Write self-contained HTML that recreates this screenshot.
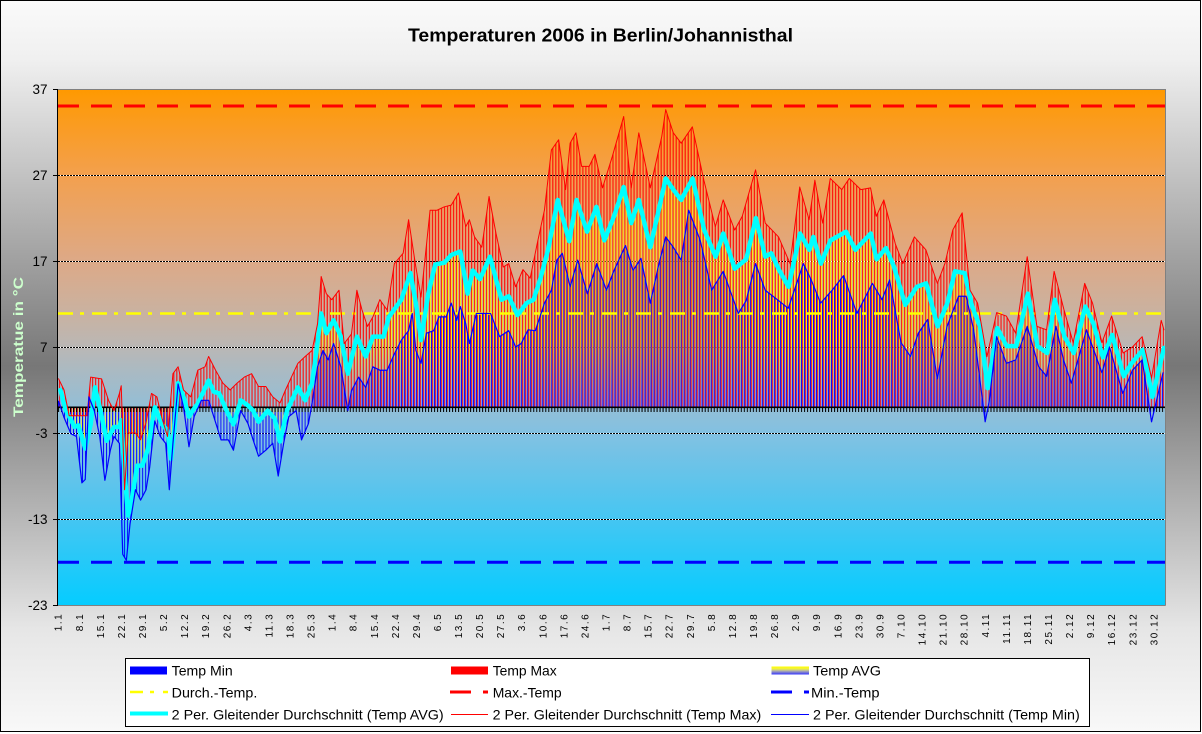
<!DOCTYPE html>
<html><head><meta charset="utf-8"><title>Temperaturen 2006 in Berlin/Johannisthal</title>
<style>html,body{margin:0;padding:0;background:#fff}svg{display:block}</style></head>
<body>
<svg width="1202" height="734" viewBox="0 0 1202 734" xmlns="http://www.w3.org/2000/svg" font-family="'Liberation Sans', Arial, sans-serif">
<defs>
<linearGradient id="bg" x1="0" y1="0" x2="0" y2="1">
<stop offset="0" stop-color="#fafafa"/><stop offset="0.08" stop-color="#f0f0f0"/><stop offset="0.5" stop-color="#777777"/><stop offset="0.86" stop-color="#e6e6e6"/><stop offset="1" stop-color="#f8f8f8"/>
</linearGradient>
<linearGradient id="plot" x1="0" y1="0" x2="0" y2="1">
<stop offset="0" stop-color="#ff9900"/><stop offset="0.167" stop-color="#f3a04e"/><stop offset="0.333" stop-color="#dda987"/><stop offset="0.436" stop-color="#c9b2a1"/><stop offset="0.5" stop-color="#bab7b5"/><stop offset="0.616" stop-color="#93bed6"/><stop offset="0.667" stop-color="#82c1e2"/><stop offset="0.833" stop-color="#45c6f2"/><stop offset="1" stop-color="#05ccff"/>
</linearGradient>
<linearGradient id="avgGrad" x1="0" y1="0" x2="0" y2="1">
<stop offset="0" stop-color="#8888ff"/><stop offset="0.1" stop-color="#ffff00"/><stop offset="0.46" stop-color="#ffff00"/><stop offset="0.5" stop-color="#6666ff"/><stop offset="0.85" stop-color="#6666ff"/><stop offset="0.9625" stop-color="#ffff00"/><stop offset="1" stop-color="#dddd88"/>
</linearGradient>
<linearGradient id="legAvg" x1="0" y1="0" x2="0" y2="1">
<stop offset="0" stop-color="#ffff00"/><stop offset="0.3" stop-color="#f0f040"/><stop offset="0.55" stop-color="#b0b0b0"/><stop offset="1" stop-color="#3333ff"/>
</linearGradient>
<pattern id="pBlue" patternUnits="userSpaceOnUse" x="0" y="0" width="0.9944" height="80"><rect x="0" y="0" width="0.3" height="80" fill="#0000ff"/></pattern>
<pattern id="pRed" patternUnits="userSpaceOnUse" x="0" y="0" width="0.9944" height="80"><rect x="0.33" y="0" width="0.34" height="80" fill="#ff0000"/></pattern>
<pattern id="pAvg" patternUnits="userSpaceOnUse" x="0" y="0" width="0.9944" height="80"><rect x="0.67" y="0" width="0.29" height="80" fill="url(#avgGrad)"/></pattern>
<pattern id="comb" patternUnits="userSpaceOnUse" x="58" y="0" width="3.008" height="20"><rect x="0" y="0" width="1" height="20" fill="#000"/></pattern>
</defs>

<rect x="0.5" y="0.5" width="1200" height="731" fill="url(#bg)" stroke="#000" stroke-width="1"/>

<text x="408" y="41.7" font-size="18.5" font-weight="bold" fill="#000" textLength="385" lengthAdjust="spacingAndGlyphs">Temperaturen 2006 in Berlin/Johannisthal</text>

<rect x="58" y="89" width="1107" height="516" fill="url(#plot)"/>

<g stroke-width="1">
<g stroke="#ffffff"><line x1="58" y1="175.5" x2="1165" y2="175.5"/><line x1="58" y1="261.5" x2="1165" y2="261.5"/><line x1="58" y1="347.5" x2="1165" y2="347.5"/><line x1="58" y1="433.5" x2="1165" y2="433.5"/><line x1="58" y1="519.5" x2="1165" y2="519.5"/></g>
<g stroke="#000000" stroke-dasharray="2 1"><line x1="58" y1="175.5" x2="1165" y2="175.5"/><line x1="58" y1="261.5" x2="1165" y2="261.5"/><line x1="58" y1="347.5" x2="1165" y2="347.5"/><line x1="58" y1="433.5" x2="1165" y2="433.5"/><line x1="58" y1="519.5" x2="1165" y2="519.5"/></g>
</g>

<g transform="translate(58,407.2) scale(3.025,-8.6)">
<polygon fill="url(#pRed)" points="0,0 0,3.3 0.2,3.3 2,2 3.7,-1 9.6,-1 10.8,3.5 14.4,3.3 16.7,0.8 18.5,-0.4 20.3,1.6 20.9,2.5 22,-9.6 23.2,-3 25.6,-3 27.3,-3.8 29.1,-1.8 30.9,1.6 32.7,1.2 34.4,-1.3 36.2,-3.4 38,3.9 39.7,4.7 41.5,2 43.9,1.2 46.2,4.3 48.6,4.7 49.8,5.9 52.1,4.3 54.5,2.8 56.9,2 59.2,2.8 61.6,3.5 64,3.9 66.3,2.4 68.7,2.4 71,1.2 73.4,0.5 75.2,2 76.9,3.3 79.3,5.1 81.7,5.9 84,6.6 85.8,9.7 87,15.2 88.7,13.2 90.5,12.5 92.9,13.6 94.6,7.4 97,8.5 98.8,13.6 100.5,11.3 102.3,9.4 104.1,10.5 106.4,12.5 108.8,11.3 111.2,16.7 114.1,17.9 115.9,21.8 118.3,16.3 120,12.8 123,22.9 125.3,22.9 127.7,23.3 130,23.5 132.4,24.9 134.8,21 136,21.8 137.7,19.8 140.1,18.6 142.5,24.5 144.8,20.2 147.2,16.3 149,16.7 151.3,14 153.7,16 156.1,15 158.4,19 160.8,22.9 163.1,29.9 165.5,31.1 167.8,25.3 169.3,30.7 171.2,31.9 173.1,28 175.6,28 177.5,29.4 180,25.5 183.2,29.1 187,33.8 189.5,25.5 192,31.9 195.8,25.5 199.6,31.5 200.9,34.6 203.4,31.9 206,30.7 209.7,32.6 213.5,26.4 217.3,21 219.9,24.1 223.7,20.6 226.2,22.2 230.6,27.6 233.8,21.4 238.2,19.8 242,16.7 245.2,25.6 248.3,21.8 250.2,26.4 252.8,21.4 255.3,26.6 259.1,25.3 261.6,26.6 265.4,25.3 268.6,25.5 270.5,22.2 273,24.1 276.8,19 279.3,16.7 283.1,19.8 286.9,18.3 290.7,14.4 293.2,16.7 295.8,20.6 298.9,22.6 301.5,13.6 304,12.1 307.1,5.9 310.3,11 313.5,10.6 316.6,8.6 320.4,17.5 323.6,9.4 326.8,9 329.3,15.8 332.5,11.4 335.6,7.5 339.4,14.4 342,12.1 345.1,7.5 348.3,10.6 352.1,6.3 355.2,7 358.4,8.2 361.5,3.4 364.7,10.1 365.6,9 365.6,0"/>
<polygon fill="url(#pAvg)" points="0,0 0,2.5 0.8,2 2.5,-0.3 5.5,-2.3 6.7,-2.1 9,-4.8 10.8,-2 12.2,2.3 13.8,0 16.1,-3.9 18.5,-2.3 20.3,-2.3 20.9,-1.5 22,-7.6 23.2,-12.6 24.4,-10.7 26.2,-6.8 27.9,-6.8 29.7,-4.9 32,0 34.4,-2 36.2,-2.7 37.4,-6 38.6,-2 39.7,2.8 41.5,1.2 43.3,-1.1 44.5,-0.4 46.2,0.4 49.8,3.1 51.5,1.8 53.3,1.6 55.7,-0.4 58,-2 60.4,0.8 62.8,0.2 64.5,-0.4 66.3,-1.7 69.3,-0.4 71.6,-1.3 73.4,-4 75.7,-0.4 79.3,2.3 81.7,0.8 84,2.8 85.2,5.9 87,10.9 88.7,8.6 91.1,10.1 93.5,8.2 95.8,3.9 98.8,8.2 101.7,5.9 104.1,8.2 107.6,8.2 109.4,10.5 113.5,12.5 116.5,15.6 118.3,12.1 120,7.8 122.4,13.2 124.7,16.6 127.7,16.8 130,17.7 133,18.1 135.4,13.2 137.1,15.9 139.5,14.9 142.8,17.5 146.6,12.5 149,12.9 151.9,10.7 154.9,12.1 157.2,12.5 159.6,15.1 162,18.3 165.2,24.1 169,19.3 171.4,24.1 174.9,20.4 178,23.3 180.6,19.4 183.8,22.2 187,25.6 189.5,21.4 192,24.1 195.8,18.6 198.3,22.5 200.9,26.6 203.4,25.3 206,24.1 209.8,26.6 213.6,20.6 217.4,17.5 219.9,20.2 223.7,16.1 227.5,17.2 230.7,22 233.8,17.5 235.8,17.9 238.3,16 241.5,14 245.3,20.2 248.4,18.3 249.7,19.8 252.2,16.7 255.4,19.4 260.5,20.4 263.6,18.3 268.7,20.2 270.6,17.2 273.7,18.5 276.3,16.4 280.1,11.9 283.9,14 287,14.4 290.8,9.4 294,12.1 296.5,15.8 299.7,15.6 302.2,11.7 304.8,9.4 307.3,2.2 310.5,9.2 313.6,7.1 316.8,7.1 320.6,13.2 323.8,7.1 327,6.3 329.5,12.5 332.7,8.2 335.8,6.3 339.6,11.7 342.2,9.8 345.4,5.8 348.5,8.4 352.3,3.6 354.9,5.1 358.7,6.7 361.8,1.2 365.6,6.9 365.6,0"/>
<polygon fill="url(#pBlue)" points="0,0 0,0.7 0.2,0.7 2,-1.2 4.3,-3.1 6.1,-3.4 7.9,-8.8 9,-8.4 10.2,1.2 12,-0.4 13.8,-3.4 15.5,-8.5 17.3,-5 18.5,-3.4 20.3,-4.2 21.4,-17.1 22.6,-17.8 23.8,-13.6 25.6,-9.6 27.3,-10.8 29.1,-9.6 30.3,-7 32,-1.6 33.8,-3.4 35.6,-4.2 36.8,-9.6 38,-4.2 39.7,2.7 41.5,0 43.3,-4.6 45,-1.1 47.4,0.8 49.8,0.8 51.5,-1.1 53.9,-3.8 56.3,-3.8 58,-5 60.4,-0.4 62.8,-1.9 64.5,-3.8 66.3,-5.7 68.7,-5 71,-4.2 72.8,-8 74.6,-4.2 76.3,-1.1 78.7,-0.4 80.5,-3.8 82.8,-1.9 84,0.5 85.8,4.7 87.6,6.6 89.3,5.5 91.1,7.4 93.5,4.7 95.8,-0.4 97,1.9 99.4,3.5 101.7,2.3 104.1,4.7 106.4,4.3 108.8,4.3 111.2,6.2 113.5,7.8 115.9,8.9 117.1,10.9 118.3,6.6 120,5.1 121.8,8.6 124.2,8.9 125.9,10.5 128.3,10.5 130,12.1 131.8,10.1 133,11.7 134.8,9.7 136,7.4 138.3,10.9 143,10.9 146,8.2 149,8.9 151.3,7 153.1,7.4 155.4,9 157.8,8.9 160.8,12.1 163.1,13.6 164.9,17.1 166.7,17.9 169.3,14 171.8,17.1 175,13.2 178.1,16.7 181.3,13.6 183.8,15.9 187.6,18.8 190.1,15.9 192.7,17.3 195.8,12.1 198.4,16.3 200.9,19.8 203.4,18.6 206,17.1 208.5,22.9 212.3,19.4 216.1,13.6 219.9,15.8 224.9,10.9 227.5,12.4 230.6,16.7 233.8,13.6 238.2,12.4 241.4,11.5 246.4,16.7 249,14.8 252.1,12.1 255.9,13.6 259.7,15.3 264.1,10.9 269.2,14.4 272.4,12.5 274.9,14.8 278.7,7.5 281.8,5.9 284.4,8.6 287.5,10.2 290.7,3.3 293.9,9.4 297.7,12.9 300.2,12.9 302.7,9 306.5,-1.7 307.8,0.6 310.3,8.2 313.5,5.1 316.6,5.5 320.4,9.4 324.2,4.7 326.8,3.6 329.9,9.4 332.4,5.5 335,2.8 340,9 345.1,4 347.6,7 352,1.6 355.2,4.3 358.4,5.5 361.5,-1.7 365.3,4 365.6,4 365.6,0"/>
</g>

<rect x="58" y="406.5" width="1107" height="1.6" fill="#000"/>
<rect x="58" y="407" width="1107" height="5" fill="url(#comb)"/>

<line x1="58" y1="313.5" x2="1165" y2="313.5" stroke="#ffff00" stroke-width="2.6" stroke-dasharray="15 7 4 8"/>
<line x1="58" y1="106" x2="1165" y2="106" stroke="#ff0000" stroke-width="3" stroke-dasharray="21 12"/>
<line x1="58" y1="562.3" x2="1165" y2="562.3" stroke="#0000ff" stroke-width="3" stroke-dasharray="21 12"/>

<g transform="translate(58,407.2) scale(3.025,-8.6)" fill="none" stroke-linejoin="round" stroke-linecap="round">
<polyline vector-effect="non-scaling-stroke" stroke="#00ffff" stroke-width="4.5" points="0.8,2 2.5,-0.3 5.5,-2.3 6.7,-2.1 9,-4.8 10.8,-2 12.2,2.3 13.8,0 16.1,-3.9 18.5,-2.3 20.3,-2.3 20.9,-1.5 22,-7.6 23.2,-12.6 24.4,-10.7 26.2,-6.8 27.9,-6.8 29.7,-4.9 32,0 34.4,-2 36.2,-2.7 37.4,-6 38.6,-2 39.7,2.8 41.5,1.2 43.3,-1.1 44.5,-0.4 46.2,0.4 49.8,3.1 51.5,1.8 53.3,1.6 55.7,-0.4 58,-2 60.4,0.8 62.8,0.2 64.5,-0.4 66.3,-1.7 69.3,-0.4 71.6,-1.3 73.4,-4 75.7,-0.4 79.3,2.3 81.7,0.8 84,2.8 85.2,5.9 87,10.9 88.7,8.6 91.1,10.1 93.5,8.2 95.8,3.9 98.8,8.2 101.7,5.9 104.1,8.2 107.6,8.2 109.4,10.5 113.5,12.5 116.5,15.6 118.3,12.1 120,7.8 122.4,13.2 124.7,16.6 127.7,16.8 130,17.7 133,18.1 135.4,13.2 137.1,15.9 139.5,14.9 142.8,17.5 146.6,12.5 149,12.9 151.9,10.7 154.9,12.1 157.2,12.5 159.6,15.1 162,18.3 165.2,24.1 169,19.3 171.4,24.1 174.9,20.4 178,23.3 180.6,19.4 183.8,22.2 187,25.6 189.5,21.4 192,24.1 195.8,18.6 198.3,22.5 200.9,26.6 203.4,25.3 206,24.1 209.8,26.6 213.6,20.6 217.4,17.5 219.9,20.2 223.7,16.1 227.5,17.2 230.7,22 233.8,17.5 235.8,17.9 238.3,16 241.5,14 245.3,20.2 248.4,18.3 249.7,19.8 252.2,16.7 255.4,19.4 260.5,20.4 263.6,18.3 268.7,20.2 270.6,17.2 273.7,18.5 276.3,16.4 280.1,11.9 283.9,14 287,14.4 290.8,9.4 294,12.1 296.5,15.8 299.7,15.6 302.2,11.7 304.8,9.4 307.3,2.2 310.5,9.2 313.6,7.1 316.8,7.1 320.6,13.2 323.8,7.1 327,6.3 329.5,12.5 332.7,8.2 335.8,6.3 339.6,11.7 342.2,9.8 345.4,5.8 348.5,8.4 352.3,3.6 354.9,5.1 358.7,6.7 361.8,1.2 365.6,6.9"/>
<polyline vector-effect="non-scaling-stroke" stroke="#ff0000" stroke-width="1" points="0.2,3.3 2,2 3.7,-1 9.6,-1 10.8,3.5 14.4,3.3 16.7,0.8 18.5,-0.4 20.3,1.6 20.9,2.5 22,-9.6 23.2,-3 25.6,-3 27.3,-3.8 29.1,-1.8 30.9,1.6 32.7,1.2 34.4,-1.3 36.2,-3.4 38,3.9 39.7,4.7 41.5,2 43.9,1.2 46.2,4.3 48.6,4.7 49.8,5.9 52.1,4.3 54.5,2.8 56.9,2 59.2,2.8 61.6,3.5 64,3.9 66.3,2.4 68.7,2.4 71,1.2 73.4,0.5 75.2,2 76.9,3.3 79.3,5.1 81.7,5.9 84,6.6 85.8,9.7 87,15.2 88.7,13.2 90.5,12.5 92.9,13.6 94.6,7.4 97,8.5 98.8,13.6 100.5,11.3 102.3,9.4 104.1,10.5 106.4,12.5 108.8,11.3 111.2,16.7 114.1,17.9 115.9,21.8 118.3,16.3 120,12.8 123,22.9 125.3,22.9 127.7,23.3 130,23.5 132.4,24.9 134.8,21 136,21.8 137.7,19.8 140.1,18.6 142.5,24.5 144.8,20.2 147.2,16.3 149,16.7 151.3,14 153.7,16 156.1,15 158.4,19 160.8,22.9 163.1,29.9 165.5,31.1 167.8,25.3 169.3,30.7 171.2,31.9 173.1,28 175.6,28 177.5,29.4 180,25.5 183.2,29.1 187,33.8 189.5,25.5 192,31.9 195.8,25.5 199.6,31.5 200.9,34.6 203.4,31.9 206,30.7 209.7,32.6 213.5,26.4 217.3,21 219.9,24.1 223.7,20.6 226.2,22.2 230.6,27.6 233.8,21.4 238.2,19.8 242,16.7 245.2,25.6 248.3,21.8 250.2,26.4 252.8,21.4 255.3,26.6 259.1,25.3 261.6,26.6 265.4,25.3 268.6,25.5 270.5,22.2 273,24.1 276.8,19 279.3,16.7 283.1,19.8 286.9,18.3 290.7,14.4 293.2,16.7 295.8,20.6 298.9,22.6 301.5,13.6 304,12.1 307.1,5.9 310.3,11 313.5,10.6 316.6,8.6 320.4,17.5 323.6,9.4 326.8,9 329.3,15.8 332.5,11.4 335.6,7.5 339.4,14.4 342,12.1 345.1,7.5 348.3,10.6 352.1,6.3 355.2,7 358.4,8.2 361.5,3.4 364.7,10.1 365.6,9"/>
<polyline vector-effect="non-scaling-stroke" stroke="#0000ff" stroke-width="1.2" points="0.2,0.7 2,-1.2 4.3,-3.1 6.1,-3.4 7.9,-8.8 9,-8.4 10.2,1.2 12,-0.4 13.8,-3.4 15.5,-8.5 17.3,-5 18.5,-3.4 20.3,-4.2 21.4,-17.1 22.6,-17.8 23.8,-13.6 25.6,-9.6 27.3,-10.8 29.1,-9.6 30.3,-7 32,-1.6 33.8,-3.4 35.6,-4.2 36.8,-9.6 38,-4.2 39.7,2.7 41.5,0 43.3,-4.6 45,-1.1 47.4,0.8 49.8,0.8 51.5,-1.1 53.9,-3.8 56.3,-3.8 58,-5 60.4,-0.4 62.8,-1.9 64.5,-3.8 66.3,-5.7 68.7,-5 71,-4.2 72.8,-8 74.6,-4.2 76.3,-1.1 78.7,-0.4 80.5,-3.8 82.8,-1.9 84,0.5 85.8,4.7 87.6,6.6 89.3,5.5 91.1,7.4 93.5,4.7 95.8,-0.4 97,1.9 99.4,3.5 101.7,2.3 104.1,4.7 106.4,4.3 108.8,4.3 111.2,6.2 113.5,7.8 115.9,8.9 117.1,10.9 118.3,6.6 120,5.1 121.8,8.6 124.2,8.9 125.9,10.5 128.3,10.5 130,12.1 131.8,10.1 133,11.7 134.8,9.7 136,7.4 138.3,10.9 143,10.9 146,8.2 149,8.9 151.3,7 153.1,7.4 155.4,9 157.8,8.9 160.8,12.1 163.1,13.6 164.9,17.1 166.7,17.9 169.3,14 171.8,17.1 175,13.2 178.1,16.7 181.3,13.6 183.8,15.9 187.6,18.8 190.1,15.9 192.7,17.3 195.8,12.1 198.4,16.3 200.9,19.8 203.4,18.6 206,17.1 208.5,22.9 212.3,19.4 216.1,13.6 219.9,15.8 224.9,10.9 227.5,12.4 230.6,16.7 233.8,13.6 238.2,12.4 241.4,11.5 246.4,16.7 249,14.8 252.1,12.1 255.9,13.6 259.7,15.3 264.1,10.9 269.2,14.4 272.4,12.5 274.9,14.8 278.7,7.5 281.8,5.9 284.4,8.6 287.5,10.2 290.7,3.3 293.9,9.4 297.7,12.9 300.2,12.9 302.7,9 306.5,-1.7 307.8,0.6 310.3,8.2 313.5,5.1 316.6,5.5 320.4,9.4 324.2,4.7 326.8,3.6 329.9,9.4 332.4,5.5 335,2.8 340,9 345.1,4 347.6,7 352,1.6 355.2,4.3 358.4,5.5 361.5,-1.7 365.3,4"/>
</g>

<line x1="58" y1="89.5" x2="1165.5" y2="89.5" stroke="#808080" stroke-width="1"/>
<line x1="1165.5" y1="89" x2="1165.5" y2="605.5" stroke="#808080" stroke-width="1"/>
<line x1="58" y1="605.5" x2="1165.5" y2="605.5" stroke="#808080" stroke-width="1"/>
<line x1="57.5" y1="89" x2="57.5" y2="606" stroke="#000" stroke-width="1"/>
<g stroke="#000" stroke-width="1">
<line x1="53" y1="89.5" x2="58" y2="89.5"/><line x1="53" y1="175.5" x2="58" y2="175.5"/><line x1="53" y1="261.5" x2="58" y2="261.5"/><line x1="53" y1="347.5" x2="58" y2="347.5"/><line x1="53" y1="433.5" x2="58" y2="433.5"/><line x1="53" y1="519.5" x2="58" y2="519.5"/><line x1="53" y1="605.5" x2="58" y2="605.5"/>
</g>

<g font-size="13.5" fill="#000" text-anchor="end">
<text x="47.5" y="94">37</text><text x="47.5" y="180">27</text><text x="47.5" y="266">17</text><text x="47.5" y="352">7</text><text x="47.5" y="438">-3</text><text x="47.5" y="524">-13</text><text x="47.5" y="610">-23</text>
</g>

<text transform="translate(23,417) rotate(-90)" font-size="14" font-weight="bold" fill="#ccffcc" textLength="140" lengthAdjust="spacingAndGlyphs">Temperatue in °C</text>

<g transform="rotate(-90)" font-size="10" fill="#000" text-anchor="end" letter-spacing="1.5">
<text x="-612.8" y="61.7">1.1</text><text x="-612.8" y="82.8">8.1</text><text x="-612.8" y="103.8">15.1</text><text x="-612.8" y="124.9">22.1</text><text x="-612.8" y="146">29.1</text><text x="-612.8" y="167.1">5.2</text><text x="-612.8" y="188.1">12.2</text><text x="-612.8" y="209.2">19.2</text><text x="-612.8" y="230.3">26.2</text><text x="-612.8" y="251.3">4.3</text><text x="-612.8" y="272.4">11.3</text><text x="-612.8" y="293.5">18.3</text><text x="-612.8" y="314.5">25.3</text><text x="-612.8" y="335.6">1.4</text><text x="-612.8" y="356.7">8.4</text><text x="-612.8" y="377.8">15.4</text><text x="-612.8" y="398.8">22.4</text><text x="-612.8" y="419.9">29.4</text><text x="-612.8" y="441">6.5</text><text x="-612.8" y="462">13.5</text><text x="-612.8" y="483.1">20.5</text><text x="-612.8" y="504.2">27.5</text><text x="-612.8" y="525.2">3.6</text><text x="-612.8" y="546.3">10.6</text><text x="-612.8" y="567.4">17.6</text><text x="-612.8" y="588.5">24.6</text><text x="-612.8" y="609.5">1.7</text><text x="-612.8" y="630.6">8.7</text><text x="-612.8" y="651.7">15.7</text><text x="-612.8" y="672.7">22.7</text><text x="-612.8" y="693.8">29.7</text><text x="-612.8" y="714.9">5.8</text><text x="-612.8" y="735.9">12.8</text><text x="-612.8" y="757">19.8</text><text x="-612.8" y="778.1">26.8</text><text x="-612.8" y="799.2">2.9</text><text x="-612.8" y="820.2">9.9</text><text x="-612.8" y="841.3">16.9</text><text x="-612.8" y="862.4">23.9</text><text x="-612.8" y="883.4">30.9</text><text x="-612.8" y="904.5">7.10</text><text x="-612.8" y="925.6">14.10</text><text x="-612.8" y="946.6">21.10</text><text x="-612.8" y="967.7">28.10</text><text x="-612.8" y="988.8">4.11</text><text x="-612.8" y="1009.9">11.11</text><text x="-612.8" y="1030.9">18.11</text><text x="-612.8" y="1052">25.11</text><text x="-612.8" y="1073.1">2.12</text><text x="-612.8" y="1094.1">9.12</text><text x="-612.8" y="1115.2">16.12</text><text x="-612.8" y="1136.3">23.12</text><text x="-612.8" y="1157.3">30.12</text>
</g>

<rect x="125.5" y="658.5" width="964" height="68" fill="#ffffff" stroke="#000" stroke-width="1"/>
<rect x="130" y="666.5" width="37" height="8" fill="#0000ff"/>
<rect x="451" y="666.5" width="37" height="8" fill="#ff0000"/>
<rect x="771.5" y="666.5" width="37.5" height="8" fill="url(#legAvg)"/>
<line x1="130" y1="692" x2="168" y2="692" stroke="#ffff00" stroke-width="2.6" stroke-dasharray="13 7 4 9"/>
<line x1="450" y1="692" x2="488" y2="692" stroke="#ff0000" stroke-width="3" stroke-dasharray="21 12"/>
<line x1="771" y1="692" x2="809" y2="692" stroke="#0000ff" stroke-width="3" stroke-dasharray="21 12"/>
<line x1="130" y1="713.5" x2="168" y2="713.5" stroke="#00ffff" stroke-width="4"/>
<line x1="451" y1="714.5" x2="488" y2="714.5" stroke="#ff0000" stroke-width="1"/>
<line x1="771" y1="714.5" x2="809" y2="714.5" stroke="#0000ff" stroke-width="1"/>
<g font-size="14" fill="#000">
<text x="171.7" y="675.5" textLength="61" lengthAdjust="spacingAndGlyphs">Temp Min</text>
<text x="492.7" y="675.5" textLength="64" lengthAdjust="spacingAndGlyphs">Temp Max</text>
<text x="813" y="675.5" textLength="68" lengthAdjust="spacingAndGlyphs">Temp AVG</text>
<text x="171.7" y="697.7" textLength="85.6" lengthAdjust="spacingAndGlyphs">Durch.-Temp.</text>
<text x="492.7" y="697.7" textLength="69" lengthAdjust="spacingAndGlyphs">Max.-Temp</text>
<text x="811" y="697.7" textLength="68.5" lengthAdjust="spacingAndGlyphs">Min.-Temp</text>
<text x="171.7" y="719.7" textLength="272" lengthAdjust="spacingAndGlyphs">2 Per. Gleitender Durchschnitt (Temp AVG)</text>
<text x="492.7" y="719.7" textLength="268.5" lengthAdjust="spacingAndGlyphs">2 Per. Gleitender Durchschnitt (Temp Max)</text>
<text x="813" y="719.7" textLength="266.8" lengthAdjust="spacingAndGlyphs">2 Per. Gleitender Durchschnitt (Temp Min)</text>
</g>
</svg>
</body></html>
